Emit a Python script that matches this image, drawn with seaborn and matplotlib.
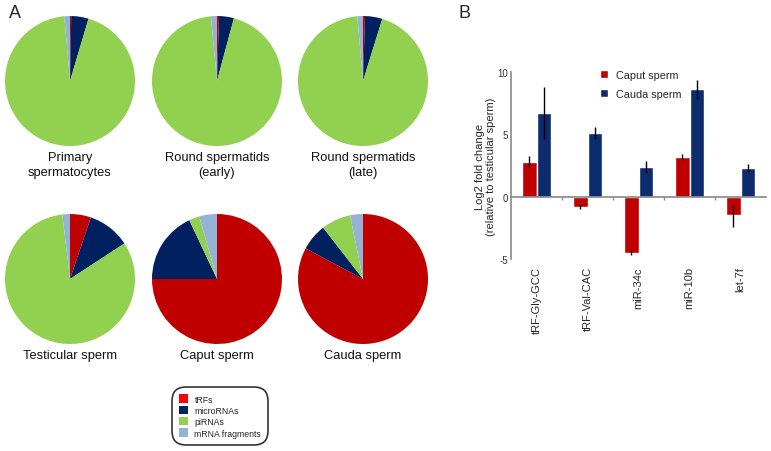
import matplotlib
matplotlib.use('Agg')
import matplotlib.pyplot as plt
from matplotlib.patches import Patch
import seaborn as sns
import pandas as pd

# panel A: small RNA composition per stage (percent of reads)
stages = ['Primary\nspermatocytes', 'Round spermatids\n(early)', 'Round spermatids\n(late)',
          'Testicular sperm', 'Caput sperm', 'Cauda sperm']
rna_classes = ['tRFs', 'microRNAs', 'piRNAs', 'mRNA fragments']
trfs = [0.3, 0.5, 0.5, 5.2, 75.0, 82.8]
micrornas = [4.3, 3.7, 4.3, 10.6, 18.0, 6.7]
pirnas = [94.0, 94.3, 93.8, 82.3, 2.6, 7.3]
mrna_frags = [1.4, 1.5, 1.4, 1.9, 4.4, 3.2]

# panel B: log2 fold change vs testicular sperm
genes = ['tRF-Gly-GCC', 'tRF-Val-CAC', 'miR-34c', 'miR-10b', 'let-7f']
caput_fc = [2.8, -0.8, -4.5, 3.2, -1.5]
caput_err = [0.45, 0.2, 0.2, 0.25, 0.9]
cauda_fc = [6.7, 5.1, 2.4, 8.6, 2.3]
cauda_err = [2.1, 0.5, 0.5, 0.75, 0.35]

pie_colors = ['#C00000', '#002060', '#92D050', '#95B3D7']
legend_colors = ['#FF0000', '#002060', '#92D050', '#95B3D7']
bar_colors = ['#C00000', '#0C2C6E']

sns.set_theme(style='white')
plt.rcParams['font.family'] = ['Liberation Sans', 'DejaVu Sans']

W, H = 771, 452
fig = plt.figure(figsize=(W / 100, H / 100), dpi=100)


def px_axes(x0, y0, w, h):
    '''add axes from pixel box (top-left origin)'''
    return fig.add_axes([x0 / W, 1 - (y0 + h) / H, w / W, h / H])


# pies
centers = [(70, 82), (217, 82), (363, 82), (70, 280), (217, 280), (363, 280)]
r = 65
for i, (cx, cy) in enumerate(centers):
    ax = px_axes(cx - r, cy - r, 2 * r, 2 * r)
    vals = [trfs[i], micrornas[i], pirnas[i], mrna_frags[i]]
    ax.pie(vals, colors=pie_colors, startangle=90, counterclock=False,
           wedgeprops=dict(linewidth=0))
    ax.set_xlim(-1, 1)
    ax.set_ylim(-1, 1)
    ax.set_aspect('equal')
    ax.text(0.5, -0.035, stages[i], transform=ax.transAxes, ha='center', va='top',
            fontsize=9.3, color='#111111', linespacing=1.4)

handles = [Patch(facecolor=c, edgecolor='none') for c in legend_colors]
leg = fig.legend(handles, rna_classes, loc='center', bbox_to_anchor=(220 / W, 1 - 417 / H),
                 fontsize=6.3, frameon=True, fancybox=True, handlelength=1.1, handleheight=1.1,
                 handletextpad=0.7, labelspacing=0.25, borderpad=0.5, borderaxespad=0)
frame = leg.get_frame()
frame.set_edgecolor('black')
frame.set_linewidth(1.2)
frame.set_boxstyle('round,pad=0.3,rounding_size=1.6')

# bar chart
df = pd.DataFrame({
    'gene': genes * 2,
    'fc': caput_fc + cauda_fc,
    'group': ['Caput sperm'] * len(genes) + ['Cauda sperm'] * len(genes),
})
bx = px_axes(511, 73, 255, 187)
sns.barplot(data=df, x='gene', y='fc', hue='group', palette=bar_colors, errorbar=None,
            width=0.58, saturation=1, ax=bx)
errs = caput_err + cauda_err
for patch, val, e in zip(bx.patches, df['fc'], errs):
    xc = patch.get_x() + patch.get_width() / 2
    bx.errorbar(xc, val, yerr=e, fmt='none', ecolor='black', elinewidth=1.0, capsize=0)

bx.set_xlim(-0.5, len(genes) - 0.5)
bx.set_ylim(-5, 10)
bx.set_yticks([-5, 0, 5, 10])
bx.set_yticklabels(['-5', '0', '5', '10'])
bx.set_xlabel('')
bx.set_ylabel('Log2 fold change\n(relative to testicular sperm)', fontsize=8, labelpad=1,
              linespacing=1.15)
for s in ['top', 'right']:
    bx.spines[s].set_visible(False)
bx.spines['left'].set_color('#8C8C8C')
bx.spines['bottom'].set_color('#8C8C8C')
bx.spines['bottom'].set_position(('data', 0))
bx.set_xticks([k + 0.5 for k in range(len(genes) - 1)], minor=True)
bx.tick_params(axis='x', which='minor', length=2, color='#8C8C8C', bottom=True)
bx.tick_params(axis='x', which='major', length=0, pad=50, labelsize=8, rotation=90)
bx.tick_params(axis='y', length=0, left=True, labelsize=7, pad=2,
               labelcolor='#333333')
bx.legend(loc='upper left', bbox_to_anchor=(0.31, 1.065), frameon=False, fontsize=7.8,
          handlelength=0.8, handleheight=0.8, labelspacing=0.85, handletextpad=0.7)

fig.text(9 / W, 1 - 13 / H, 'A', fontsize=13, ha='left', va='center')
fig.text(459 / W, 1 - 14 / H, 'B', fontsize=13, ha='left', va='center')

fig.savefig('out.png', dpi=100)
